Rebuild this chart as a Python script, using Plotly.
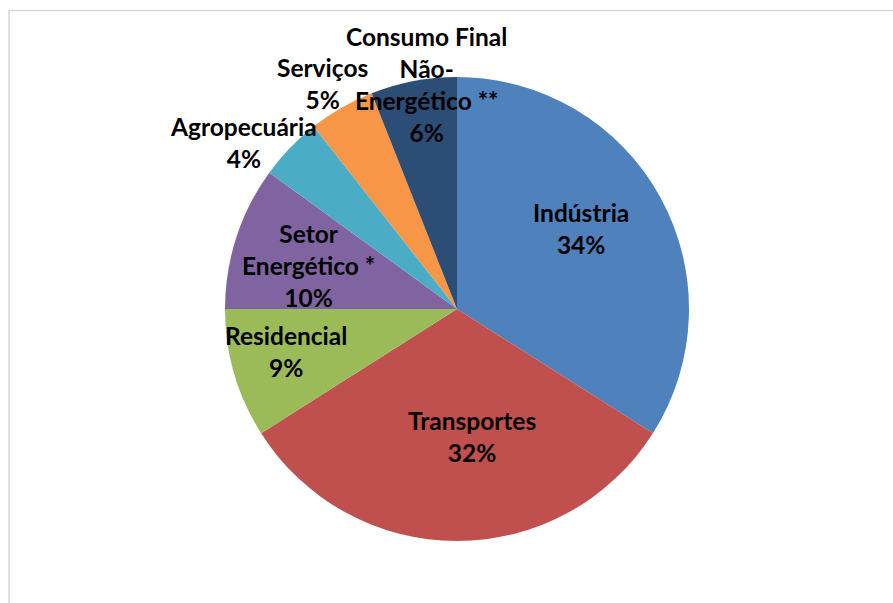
import plotly.graph_objects as go

labels = ["Indústria", "Transportes", "Residencial", "Setor Energético *",
          "Agropecuária", "Serviços", "Consumo Final Não-Energético **"]
values = [34.0, 32.0, 9.0, 10.0, 4.4, 4.6, 6.0]
colors = ["#4F81BD", "#C0504D", "#9BBB59", "#8064A2", "#4BACC6", "#F79646", "#2C4D75"]
# label text as wrapped in the original chart
label_lines = [["Indústria"], ["Transportes"], ["Residencial"], ["Setor", "Energético *"],
               ["Agropecuária"], ["Serviços"], ["Consumo Final", "Não-", "Energético **"]]
# label block centres (pixels in 893x603 canvas)
label_pos = [(581, 228), (472, 436), (286, 351), (308, 265), (244, 142), (322, 83), (426, 84)]

W, H = 893, 603
cx, cy, r = 457, 309, 232

fig = go.Figure()
fig.add_trace(go.Pie(
    labels=labels, values=values, sort=False, direction="clockwise", rotation=0,
    marker=dict(colors=colors, line=dict(width=0)),
    textinfo="none", hoverinfo="label+percent", showlegend=False,
    domain=dict(x=[(cx - r) / W, (cx + r) / W], y=[1 - (cy + r) / H, 1 - (cy - r) / H]),
))

total = sum(values)
for lines, v, (x, y) in zip(label_lines, values, label_pos):
    pct = round(v / total * 100)
    txt = "<br>".join(lines + [f"{pct}%"])
    fig.add_annotation(x=x / W, y=1 - y / H, xref="paper", yref="paper",
                       text=txt, showarrow=False, xanchor="center", yanchor="middle",
                       align="center", borderpad=0,
                       font=dict(family="Lato", size=24.5, color="#000000", weight="bold"))

fig.add_shape(type="rect", xref="paper", yref="paper",
              x0=9 / W, x1=1.02, y0=-0.02, y1=1 - 10.5 / H,
              line=dict(color="#D9D9D9", width=1.5), fillcolor="rgba(0,0,0,0)", layer="below")

fig.update_layout(width=W, height=H, margin=dict(l=0, r=0, t=0, b=0),
                  paper_bgcolor="white", plot_bgcolor="white")
fig.write_html("out.html")
